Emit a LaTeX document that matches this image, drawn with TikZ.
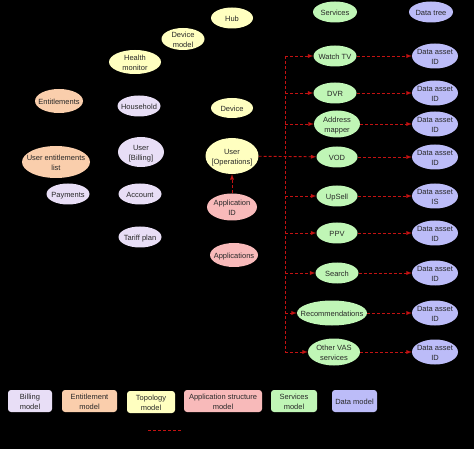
\documentclass[tikz,border=0pt]{standalone}
\usepackage{fontspec}
\setmainfont{Liberation Sans}
\usepackage{xcolor}
\usepackage{tikz}
\usetikzlibrary{arrows,shapes}

% text box of zero size, so the shape keeps the size it is given
\newcommand{\tx}[1]{\makebox[0pt]{\raisebox{-3.5pt}[0pt][0pt]{\begin{tabular}{@{}c@{}}#1\end{tabular}}}}

\begin{document}
\begin{tikzpicture}[x=1pt,y=-1pt,>=latex]
    \definecolor{mylav}{RGB}{232,222,246}
    \definecolor{mypeach}{RGB}{250,206,172}
    \definecolor{myyellow}{RGB}{255,255,192}
    \definecolor{mypink}{RGB}{248,186,186}
    \definecolor{mygreen}{RGB}{192,246,182}
    \definecolor{myblue}{RGB}{188,188,248}
    \definecolor{myred}{RGB}{195,18,18}
    \definecolor{mytext}{RGB}{40,40,40}

    \tikzstyle{bubble}=[ellipse,inner sep=0pt,text=mytext,font=\fontsize{7.5}{9.5}\selectfont]  % all ellipses
    \tikzstyle{billing}=[bubble,fill=mylav]
    \tikzstyle{entl}=[bubble,fill=mypeach]
    \tikzstyle{topo}=[bubble,fill=myyellow]
    \tikzstyle{appl}=[bubble,fill=mypink]
    \tikzstyle{serv}=[bubble,fill=mygreen]
    \tikzstyle{data}=[bubble,fill=myblue,minimum width=46pt,minimum height=25pt]
    \tikzstyle{key}=[rectangle,rounded corners=3pt,inner sep=0pt,minimum height=22pt,text=mytext,font=\fontsize{7.5}{9.5}\selectfont]  % legend boxes
    \tikzstyle{link}=[draw=myred,line width=0.9pt,dash pattern=on 3pt off 2pt]  % dashed connectors

    % background
    \fill[black] (0,0) rectangle (474,449);
    \useasboundingbox (0,0) rectangle (474,449);

    % topology
    \node[topo,minimum width=42pt,minimum height=21pt] (hub) at (232,18) {\tx{Hub}};
    \node[topo,minimum width=43pt,minimum height=22pt] (devmodel) at (183,39) {\tx{Device\\model}};
    \node[topo,minimum width=52pt,minimum height=24pt] (health) at (135,62) {\tx{Health\\monitor}};
    \node[topo,minimum width=42pt,minimum height=20pt] (device) at (232,108) {\tx{Device}};
    \node[topo,minimum width=53pt,minimum height=36pt] (uop) at (232,156) {\tx{User\\{[Operations]}}};

    % entitlements
    \node[entl,minimum width=48pt,minimum height=24pt] (entitle) at (59,101) {\tx{Entitlements}};
    \node[entl,minimum width=68pt,minimum height=32pt] (uentl) at (56,162) {\tx{User entitlements\\list}};

    % billing
    \node[billing,minimum width=43pt,minimum height=21pt] (household) at (139,106) {\tx{Household}};
    \node[billing,minimum width=46pt,minimum height=30pt] (ubill) at (141,152) {\tx{User\\{[Billing]}}};
    \node[billing,minimum width=43pt,minimum height=21pt] (payments) at (68,194) {\tx{Payments}};
    \node[billing,minimum width=43pt,minimum height=21pt] (account) at (140,194) {\tx{Account}};
    \node[billing,minimum width=43pt,minimum height=21pt] (tariff) at (140,237) {\tx{Tariff plan}};

    % applications
    \node[appl,minimum width=50pt,minimum height=27pt] (appid) at (232,207) {\tx{Application\\ID}};
    \node[appl,minimum width=48pt,minimum height=24pt] (apps) at (234,255) {\tx{Applications}};

    % services
    \node[serv,minimum width=44pt,minimum height=21pt] (services) at (335,12) {\tx{Services}};
    \node[serv,minimum width=43pt,minimum height=21pt] (watch) at (335,56) {\tx{Watch TV}};
    \node[serv,minimum width=43pt,minimum height=21pt] (dvr) at (335,93) {\tx{DVR}};
    \node[serv,minimum width=46pt,minimum height=27pt] (addr) at (337,124) {\tx{Address\\mapper}};
    \node[serv,minimum width=41pt,minimum height=21pt] (vod) at (337,157) {\tx{VOD}};
    \node[serv,minimum width=41pt,minimum height=21pt] (upsell) at (337,196) {\tx{UpSell}};
    \node[serv,minimum width=41pt,minimum height=21pt] (ppv) at (337,233) {\tx{PPV}};
    \node[serv,minimum width=43pt,minimum height=21pt] (search) at (337,273) {\tx{Search}};
    \node[serv,minimum width=70pt,minimum height=25pt] (recom) at (332,313) {\tx{Recommendations}};
    \node[serv,minimum width=52pt,minimum height=27pt] (other) at (334,352) {\tx{Other VAS\\services}};

    % data
    \node[data,minimum width=44pt,minimum height=21pt] (datatree) at (431,12) {\tx{Data tree}};
    \node[data] (da1) at (435,56) {\tx{Data asset\\ID}};
    \node[data] (da2) at (435,93) {\tx{Data asset\\ID}};
    \node[data] (da3) at (435,124) {\tx{Data asset\\ID}};
    \node[data] (da4) at (435,157) {\tx{Data asset\\ID}};
    \node[data] (da5) at (435,196) {\tx{Data asset\\IS}};
    \node[data] (da6) at (435,233) {\tx{Data asset\\ID}};
    \node[data] (da7) at (435,273) {\tx{Data asset\\ID}};
    \node[data] (da8) at (435,313) {\tx{Data asset\\ID}};
    \node[data] (da9) at (435,352) {\tx{Data asset\\ID}};

    % legend
    \node[key,fill=mylav,minimum width=44pt] (kbill) at (30,401) {\tx{Billing\\model}};
    \node[key,fill=mypeach,minimum width=55pt] (kentl) at (89.5,401) {\tx{Entitlement\\model}};
    \node[key,fill=myyellow,minimum width=48pt] (ktopo) at (151,402) {\tx{Topology\\model}};
    \node[key,fill=mypink,minimum width=78pt] (kappl) at (223,401) {\tx{Application structure\\model}};
    \node[key,fill=mygreen,minimum width=46pt] (kserv) at (294,401) {\tx{Services\\model}};
    \node[key,fill=myblue,minimum width=45pt] (kdata) at (354.5,401) {\tx{Data model}};
    \coordinate (lgA) at (148,430);
    \coordinate (lgB) at (182,430);

    % trunk on the left of the services
    \coordinate (ttop) at (285,56);
    \coordinate (tbot) at (285,352);

    % connectors
    \draw[link,->] (appid) -- (uop);
    \draw[link,->] (uop) -- (vod);
    \draw[link] (ttop) -- (tbot);
    \draw[link,->] (ttop) -- (watch);
    \draw[link,->] (dvr -| ttop) -- (dvr);
    \draw[link,->] (addr -| ttop) -- (addr);
    \draw[link,->] (upsell -| ttop) -- (upsell);
    \draw[link,->] (ppv -| ttop) -- (ppv);
    \draw[link,->] (search -| ttop) -- (search);
    \draw[link,->] (recom -| ttop) -- (recom);
    \draw[link,->] (tbot) -- (other);
    \draw[link,->] (watch) -- (da1);
    \draw[link,->] (dvr) -- (da2);
    \draw[link,->] (addr) -- (da3);
    \draw[link,->] (vod) -- (da4);
    \draw[link,->] (upsell) -- (da5);
    \draw[link,->] (ppv) -- (da6);
    \draw[link,->] (search) -- (da7);
    \draw[link,->] (recom) -- (da8);
    \draw[link,->] (other) -- (da9);
    \draw[link] (lgA) -- (lgB);
\end{tikzpicture}
\end{document}
